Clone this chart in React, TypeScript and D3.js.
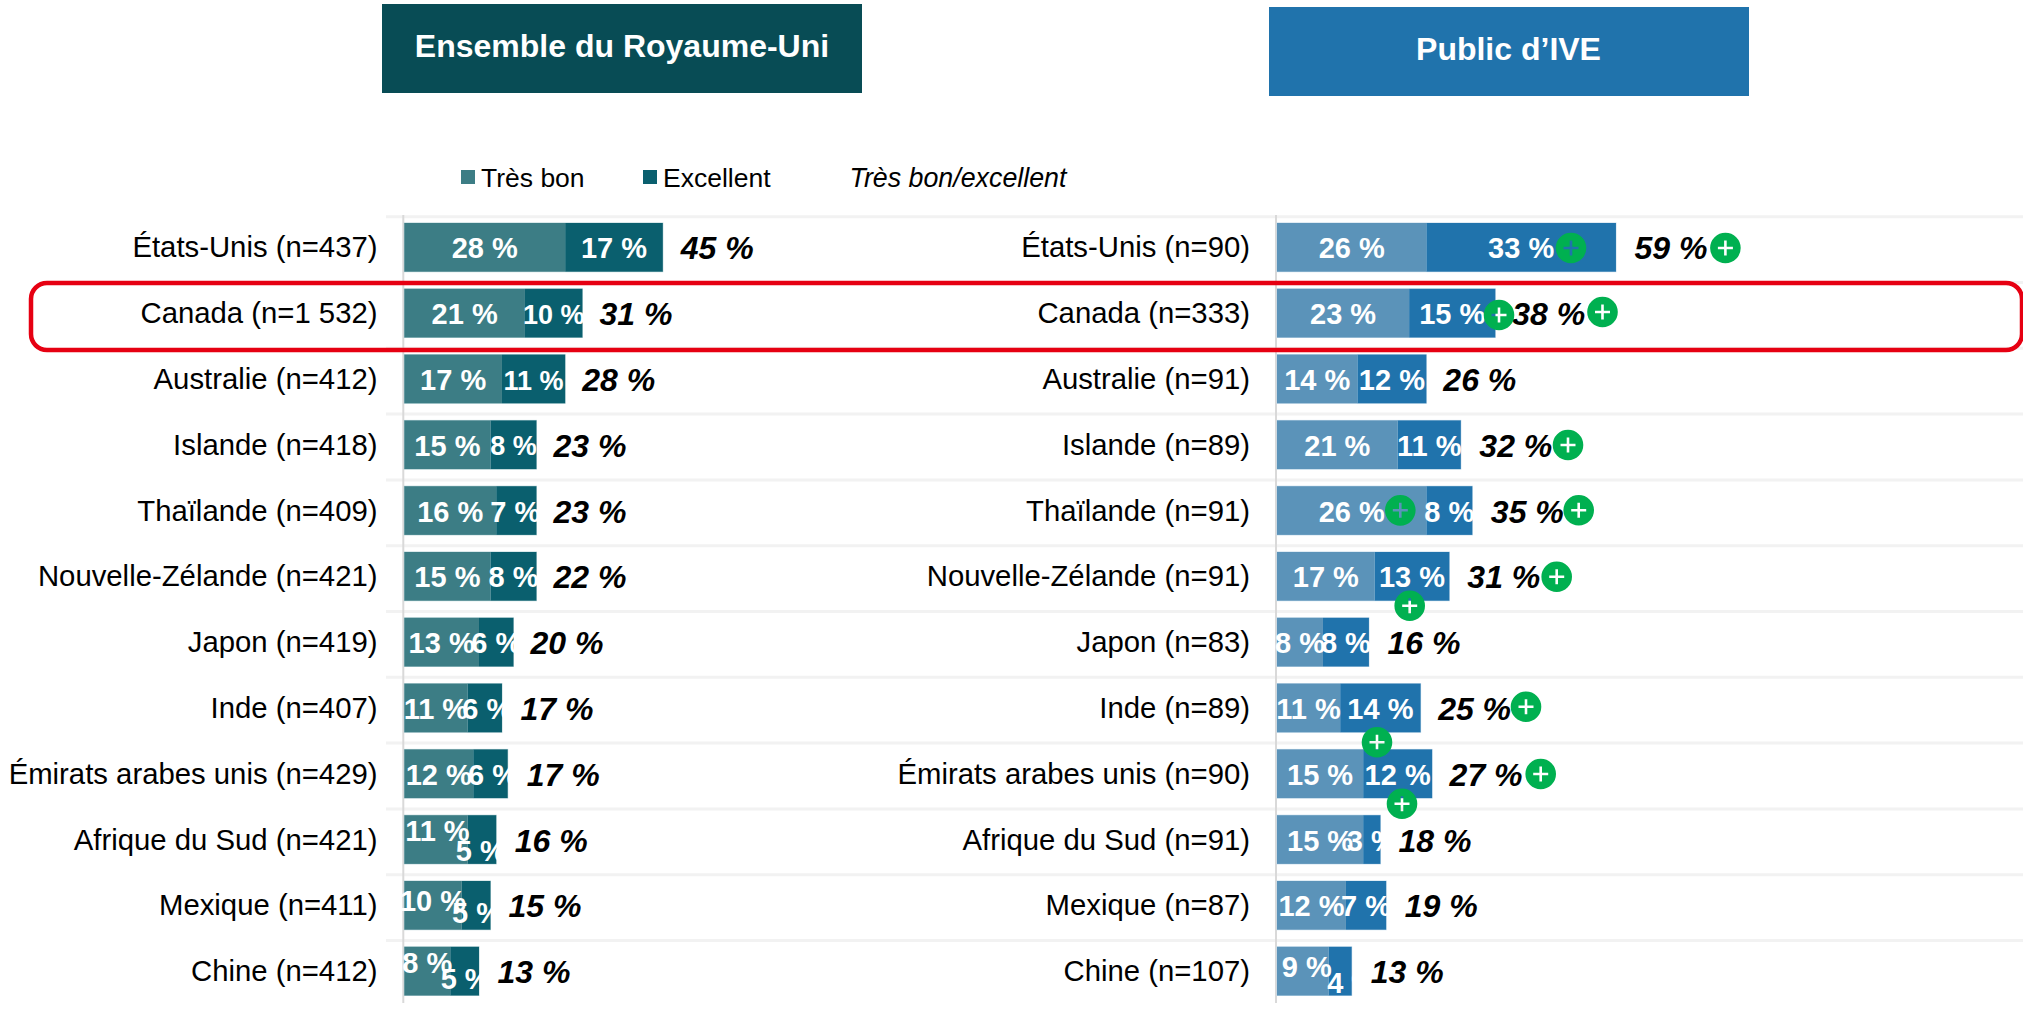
import React from "react";
import * as d3 from "d3";

const paysUk = ["États-Unis", "Canada", "Australie", "Islande", "Thaïlande", "Nouvelle-Zélande", "Japon", "Inde", "Émirats arabes unis", "Afrique du Sud", "Mexique", "Chine"];
const nUk = ["437", "1 532", "412", "418", "409", "421", "419", "407", "429", "421", "411", "412"];
const nIve = ["90", "333", "91", "89", "91", "91", "83", "89", "90", "91", "87", "107"];
const tresBonUk = [28, 21, 17, 15, 16, 15, 13, 11, 12, 11, 10, 8];
const excellentUk = [17, 10, 11, 8, 7, 8, 6, 6, 6, 5, 5, 5];
const totalUk = [45, 31, 28, 23, 23, 22, 20, 17, 17, 16, 15, 13];
const tresBonIve = [26, 23, 14, 21, 26, 17, 8, 11, 15, 15, 12, 9];
const excellentIve = [33, 15, 12, 11, 8, 13, 8, 14, 12, 3, 7, 4];
const totalIve = [59, 38, 26, 32, 35, 31, 16, 25, 27, 18, 19, 13];

// layout tables (not data)
const gapUk = [18, 17, 17, 17, 17, 17, 17, 18.5, 19, 18.5, 18, 18.5];
const gapIve = [18.5, 17, 17, 18.5, 18.5, 18, 18.5, 17.5, 17.5, 18, 18.5, 19];
type Adj = { dx?: number; dy?: number; fs?: number };
const adjUk: Record<string, Adj> = {
  "1-1": { fs: 27 }, "2-1": { fs: 27 }, "3-1": { fs: 27, dy: -1 },
  "4-1": { dx: -1 }, "7-1": { dx: 2.5 }, "8-1": { dx: 2.5 },
  "9-0": { dx: 1.5, dy: -9.5 }, "9-1": { dx: -1, dy: 10 },
  "10-0": { dy: -5 }, "10-1": { dx: 1, dy: 7 },
  "11-0": { dy: -9 }, "11-1": { dx: 1, dy: 7 },
};
const adjIve: Record<string, Adj> = {
  "11-0": { dx: 4, dy: -5 }, "11-1": { dx: 12, dy: 11 },
};
const badgesIve: [number, number][] = [
  [1571, 248], [1725.4, 248], [1499, 315], [1602.5, 312], [1568, 445],
  [1400.3, 510.3], [1578.7, 510.3], [1556.7, 576.7], [1409.7, 605.7],
  [1526, 706.7], [1377, 742.3], [1540.7, 774], [1402, 803.7],
];

const FONT = "'Liberation Sans', Arial, sans-serif";
const W = 2023, H = 1009;
const rowIdx = paysUk.map((_, i) => i);
const y = d3.scaleBand<number>().domain(rowIdx).range([223, 223 + 11 * 65.8 + 48.7]).paddingInner(0.26).paddingOuter(0);
const xLen = d3.scaleLinear().domain([0, 100]).range([0, 574.5]);

function badgePath(cx: number, cy: number) {
  const r = 15.3, a = 7.5, t = 1.3;
  const p = d3.path();
  p.moveTo(cx + r, cy);
  p.arc(cx, cy, r, 0, Math.PI * 2);
  p.closePath();
  p.moveTo(cx - a, cy - t);
  p.lineTo(cx - t, cy - t); p.lineTo(cx - t, cy - a); p.lineTo(cx + t, cy - a); p.lineTo(cx + t, cy - t);
  p.lineTo(cx + a, cy - t); p.lineTo(cx + a, cy + t); p.lineTo(cx + t, cy + t); p.lineTo(cx + t, cy + a);
  p.lineTo(cx - t, cy + a); p.lineTo(cx - t, cy + t); p.lineTo(cx - a, cy + t);
  p.closePath();
  return p.toString();
}

function Panel(props: { x0: number; labelX: number; ns: string[]; a: number[]; b: number[]; tot: number[]; gap: number[]; adj: Record<string, Adj>; c1: string; c2: string; edge: string }) {
  const { x0, labelX, ns, a, b, tot, gap, adj, c1, c2, edge } = props;
  return (
    <g fontFamily={FONT}>
      {rowIdx.map((i) => {
        const t = y(i)!, h = y.bandwidth(), cy = t + h / 2;
        const w1 = xLen(a[i]), w2 = xLen(b[i]);
        return (
          <g key={i}>
            <text x={labelX} y={cy + 10} fontSize={29.3} textAnchor="end" fill="#000">{`${paysUk[i]} (n=${ns[i]})`}</text>
            <rect x={x0} y={t} width={w1 + w2} height={h} fill="none" stroke={edge} strokeWidth={1} />
            <rect x={x0} y={t} width={w1} height={h} fill={c1} />
            <rect x={x0 + w1} y={t} width={w2} height={h} fill={c2} />
          </g>
        );
      })}
      {rowIdx.map((i) => {
        const t = y(i)!, h = y.bandwidth(), cy = t + h / 2;
        const w1 = xLen(a[i]), w2 = xLen(b[i]);
        const a0 = adj[`${i}-0`] || {}, a1 = adj[`${i}-1`] || {};
        return (
          <g key={i} fontWeight="bold">
            <text x={x0 + w1 / 2 + (a0.dx || 0)} y={cy + 11 + (a0.dy || 0)} fontSize={a0.fs || 29} textAnchor="middle" fill="#fff">{`${a[i]} %`}</text>
            <text x={x0 + w1 + w2 / 2 + (a1.dx || 0)} y={cy + 11 + (a1.dy || 0)} fontSize={a1.fs || 29} textAnchor="middle" fill="#fff">{`${b[i]} %`}</text>
            <text x={x0 + w1 + w2 + gap[i]} y={cy + 12} fontSize={32} fontStyle="italic" fill="#000">{`${tot[i]} %`}</text>
          </g>
        );
      })}
    </g>
  );
}

export default function App() {
  const gridY = rowIdx.map((i) => y(i)! - 6.3);
  return (
    <svg width={W} height={H} viewBox={`0 0 ${W} ${H}`} style={{ position: "absolute", left: 0, top: 0, display: "block", background: "#fff" }}>
      {gridY.map((g, i) => (
        <line key={i} x1={386} x2={W} y1={g} y2={g} stroke="#f2f2f2" strokeWidth={3} />
      ))}
      <line x1={403.3} x2={403.3} y1={215} y2={1003} stroke="#d9d9d9" strokeWidth={2} />
      <line x1={1276} x2={1276} y1={215} y2={1003} stroke="#d9d9d9" strokeWidth={2} />

      <rect x={382} y={4} width={480} height={89} fill="#084C55" />
      <text x={622} y={57} fontFamily={FONT} fontSize={32} fontWeight="bold" fill="#fff" textAnchor="middle">Ensemble du Royaume-Uni</text>
      <rect x={1269} y={7} width={480} height={89} fill="#2073AC" />
      <text x={1508.5} y={60} fontFamily={FONT} fontSize={32} fontWeight="bold" fill="#fff" textAnchor="middle">Public d’IVE</text>

      <g fontFamily={FONT} fontSize={26.5} fill="#000">
        <rect x={461} y={170} width={14} height={14} fill="#3C7D85" />
        <text x={481} y={186.5}>Très bon</text>
        <rect x={643} y={170} width={14} height={14} fill="#0A5F6E" />
        <text x={663} y={186.5}>Excellent</text>
        <text x={849.5} y={186.5} fontSize={26.8} fontStyle="italic">Très bon/excellent</text>
      </g>

      <Panel x0={404.3} labelX={377.5} ns={nUk} a={tresBonUk} b={excellentUk} tot={totalUk} gap={gapUk} adj={adjUk} c1="#3C7D85" c2="#0A5F6E" edge="#B8D3D7" />
      <Panel x0={1277} labelX={1250} ns={nIve} a={tresBonIve} b={excellentIve} tot={totalIve} gap={gapIve} adj={adjIve} c1="#5B93B9" c2="#2073AC" edge="#C3DAEA" />

      {badgesIve.map(([cx, cy], i) => (
        <path key={i} d={badgePath(cx, cy)} fill="#00B050" fillRule="evenodd" />
      ))}

      <rect x={31} y={283} width={1991} height={67} rx={16} ry={16} fill="none" stroke="#E60012" strokeWidth={4.5} />
    </svg>
  );
}
